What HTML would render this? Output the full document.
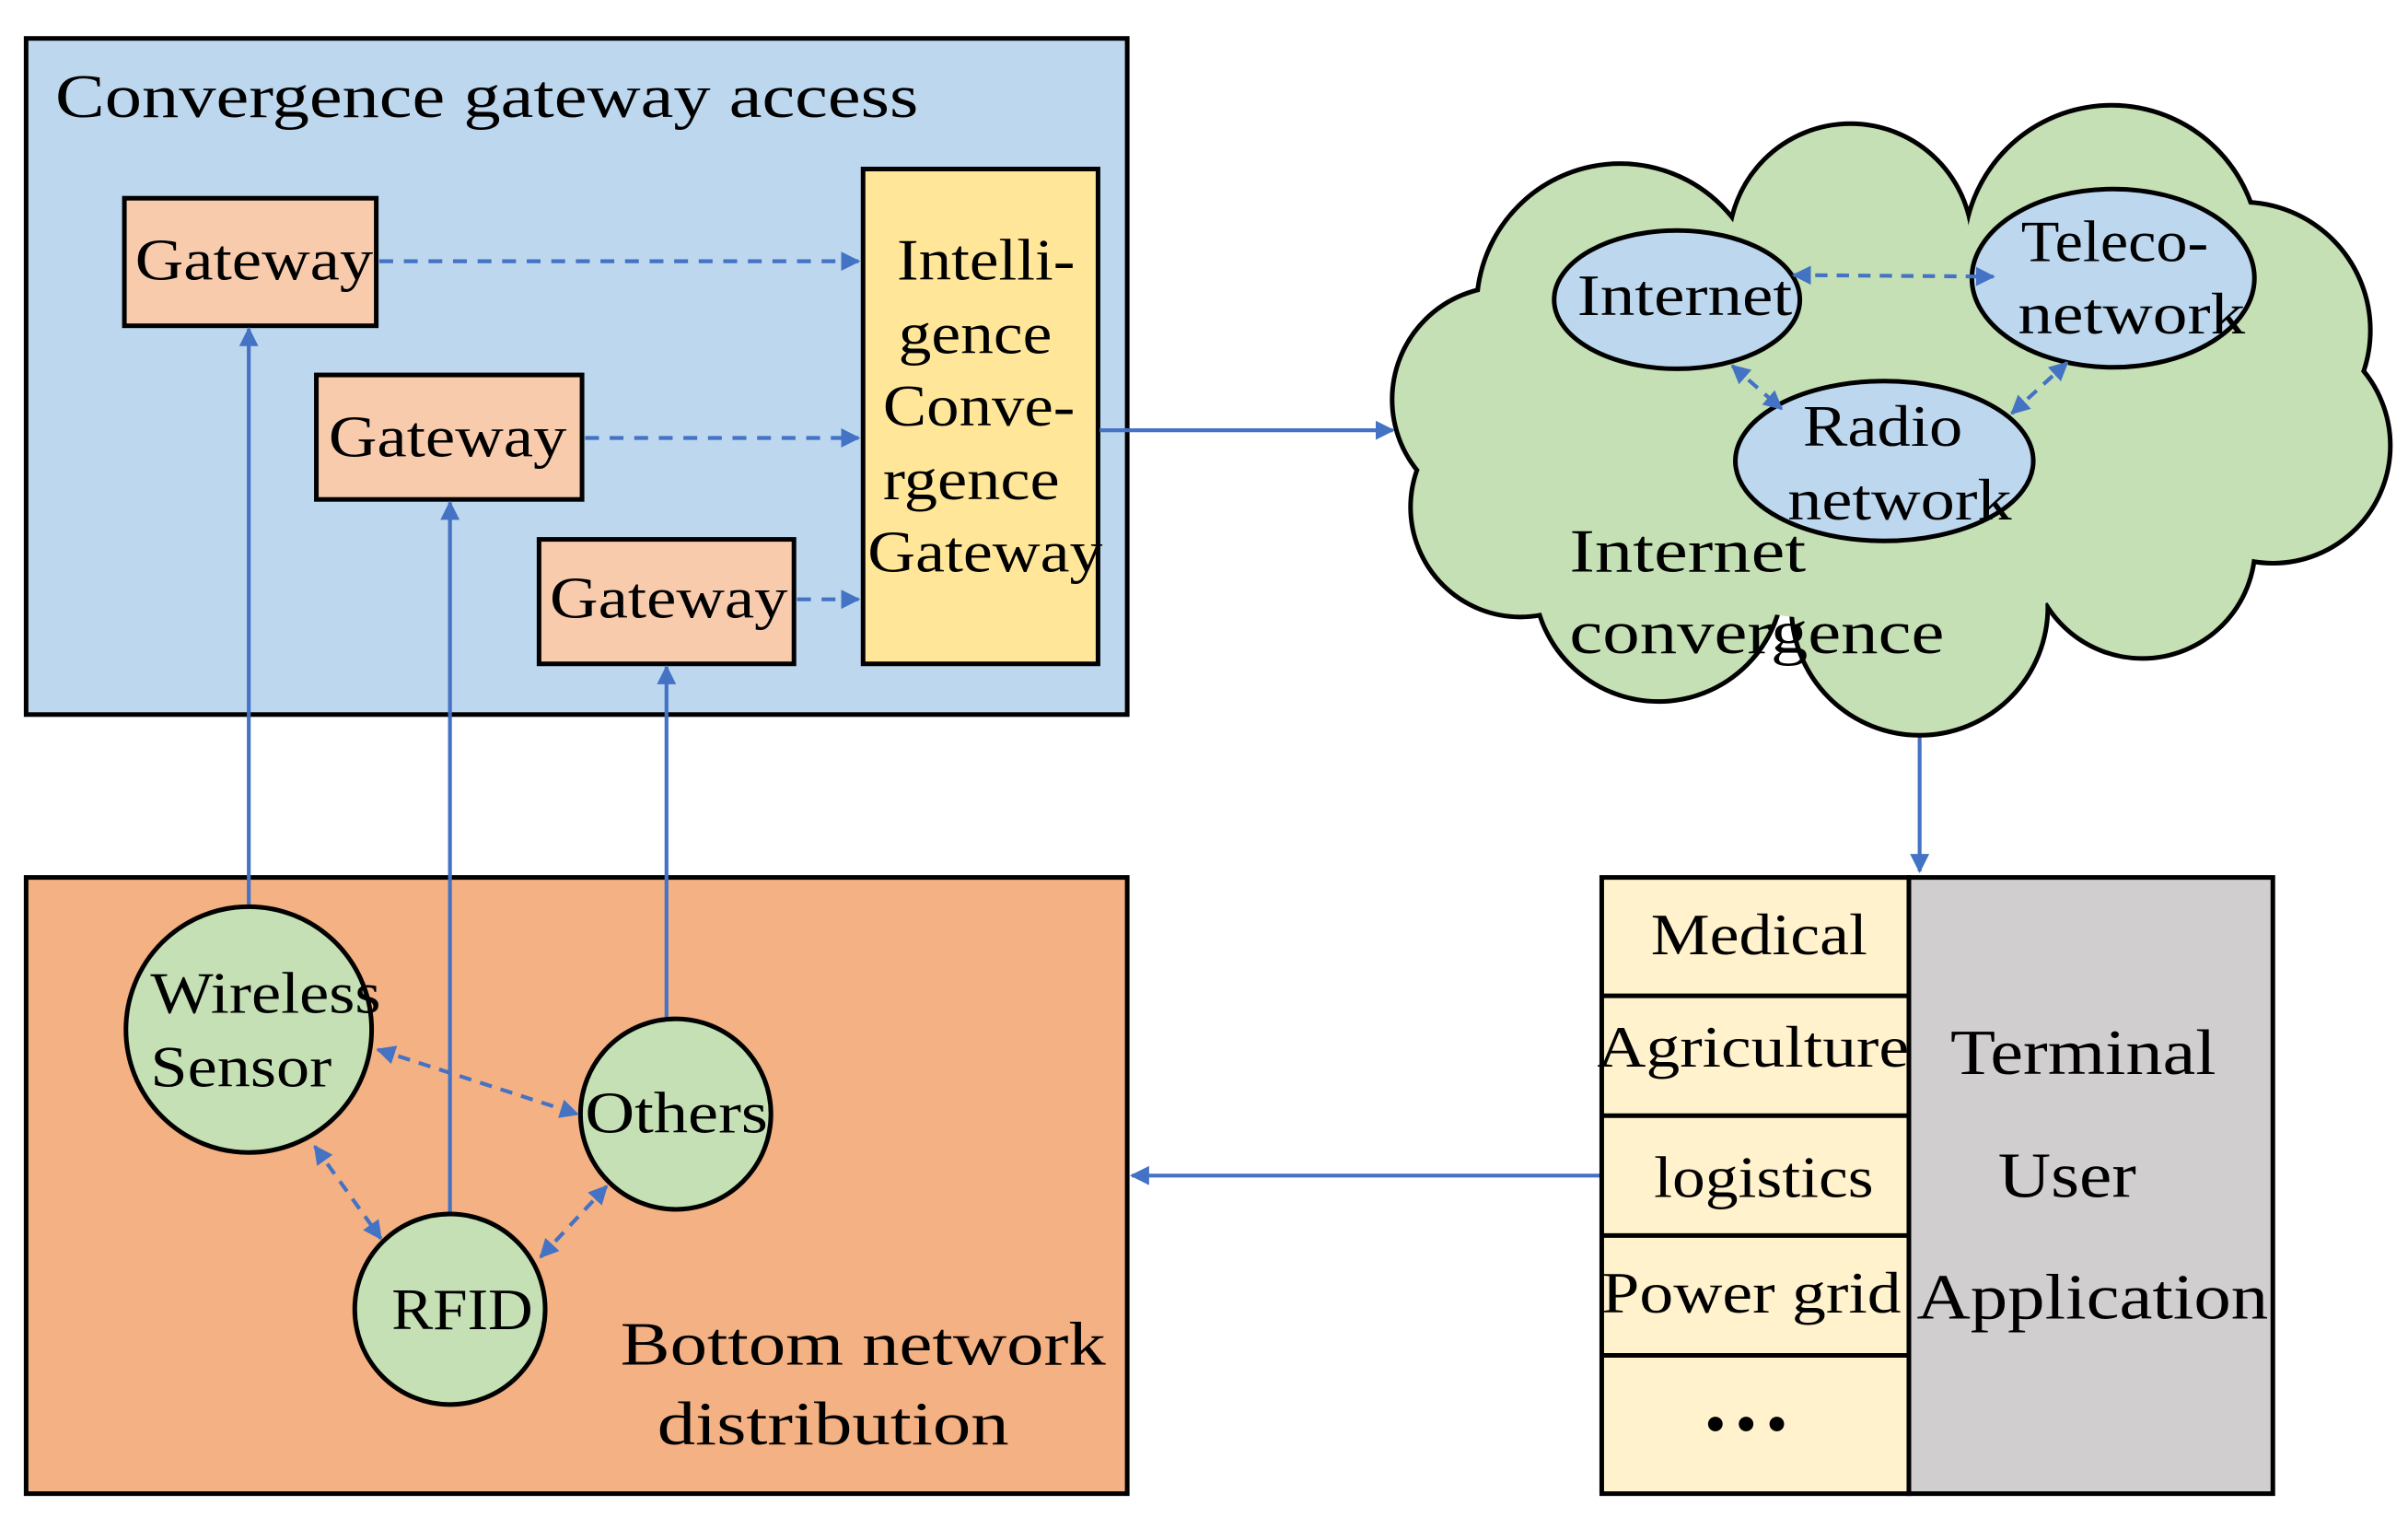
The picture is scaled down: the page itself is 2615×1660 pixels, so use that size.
<!DOCTYPE html>
<html><head><meta charset="utf-8"><style>html,body{margin:0;padding:0;background:#fff}svg{display:block}</style></head>
<body>
<svg width="2615" height="1660" viewBox="0 0 1568 995" preserveAspectRatio="none" xmlns="http://www.w3.org/2000/svg" font-family="'Liberation Serif', serif" fill="#000">
<defs>
<marker id="a" viewBox="0 0 10 10" refX="9" refY="5" markerWidth="5" markerHeight="5" orient="auto-start-reverse"><path d="M0,0 L10,5 L0,10 z" fill="#4472c4"/></marker>
</defs>
<rect x="0" y="0" width="1568" height="995" fill="#fff"/>
<rect x="17" y="25" width="717" height="440" fill="#bdd7ee" stroke="#000" stroke-width="3"/>
<text x="36" y="76" font-size="40" textLength="562" lengthAdjust="spacingAndGlyphs">Convergence gateway access</text>
<rect x="81" y="129" width="164" height="83" fill="#f8cbad" stroke="#000" stroke-width="3"/>
<text x="88" y="182" font-size="38" textLength="155" lengthAdjust="spacingAndGlyphs">Gateway</text>
<rect x="206" y="244" width="173" height="81" fill="#f8cbad" stroke="#000" stroke-width="3"/>
<text x="214" y="297" font-size="38" textLength="155" lengthAdjust="spacingAndGlyphs">Gateway</text>
<rect x="351" y="351" width="166" height="81" fill="#f8cbad" stroke="#000" stroke-width="3"/>
<text x="358" y="402" font-size="38" textLength="155" lengthAdjust="spacingAndGlyphs">Gateway</text>
<rect x="562" y="110" width="153" height="322" fill="#ffe699" stroke="#000" stroke-width="3"/>
<g font-size="38" lengthAdjust="spacingAndGlyphs">
<text x="584" y="182" textLength="116" lengthAdjust="spacingAndGlyphs">Intelli-</text>
<text x="585" y="230" textLength="100" lengthAdjust="spacingAndGlyphs">gence</text>
<text x="575" y="277" textLength="125" lengthAdjust="spacingAndGlyphs">Conve-</text>
<text x="575" y="325" textLength="115" lengthAdjust="spacingAndGlyphs">rgence</text>
<text x="565" y="372" textLength="153" lengthAdjust="spacingAndGlyphs">Gateway</text>
</g>
<g stroke="#4472c4" stroke-width="2.5" fill="none">
<line x1="247" y1="170" x2="559" y2="170" stroke-dasharray="9,7" marker-end="url(#a)"/>
<line x1="381" y1="285" x2="559" y2="285" stroke-dasharray="9,7" marker-end="url(#a)"/>
<line x1="519" y1="390" x2="559" y2="390" stroke-dasharray="9,7" marker-end="url(#a)"/>
<line x1="716" y1="280" x2="907" y2="280" marker-end="url(#a)"/>
<line x1="1250" y1="478" x2="1250" y2="567" marker-end="url(#a)"/>
<line x1="1043" y1="765" x2="737" y2="765" marker-end="url(#a)"/>
</g>
<g stroke="#000" stroke-width="6" fill="#c5e0b4">
<circle cx="1055" cy="200" r="92"/><circle cx="1205" cy="160" r="78"/><circle cx="1375" cy="165" r="95"/>
<circle cx="1460" cy="215" r="82"/><circle cx="1480" cy="290" r="75"/><circle cx="1395" cy="355" r="72"/>
<circle cx="1250" cy="395" r="82"/><circle cx="1080" cy="375" r="80"/><circle cx="990" cy="330" r="70"/><circle cx="980" cy="260" r="72"/>
</g>
<g fill="#c5e0b4">
<circle cx="1055" cy="200" r="92"/><circle cx="1205" cy="160" r="78"/><circle cx="1375" cy="165" r="95"/>
<circle cx="1460" cy="215" r="82"/><circle cx="1480" cy="290" r="75"/><circle cx="1395" cy="355" r="72"/>
<circle cx="1250" cy="395" r="82"/><circle cx="1080" cy="375" r="80"/><circle cx="990" cy="330" r="70"/><circle cx="980" cy="260" r="72"/>
<ellipse cx="1225" cy="275" rx="250" ry="130"/>
</g>
<g fill="#bdd7ee" stroke="#000" stroke-width="3">
<ellipse cx="1092" cy="195" rx="80" ry="45"/>
<ellipse cx="1376" cy="181" rx="92" ry="58"/>
<ellipse cx="1227" cy="300" rx="97" ry="52"/>
</g>
<g font-size="38">
<text x="1027" y="205" textLength="140" lengthAdjust="spacingAndGlyphs">Internet</text>
<text x="1316" y="170" textLength="122" lengthAdjust="spacingAndGlyphs">Teleco-</text>
<text x="1314" y="217" textLength="148" lengthAdjust="spacingAndGlyphs">network</text>
<text x="1174" y="290" textLength="104" lengthAdjust="spacingAndGlyphs">Radio</text>
<text x="1164" y="338" textLength="146" lengthAdjust="spacingAndGlyphs">network</text>
</g>
<text x="1022" y="372" font-size="40" textLength="154" lengthAdjust="spacingAndGlyphs">Internet</text>
<text x="1022" y="425" font-size="40" textLength="244" lengthAdjust="spacingAndGlyphs">convergence</text>
<g stroke="#4472c4" stroke-width="2.5" fill="none" stroke-dasharray="8,6">
<line x1="1168" y1="179" x2="1298" y2="180" marker-end="url(#a)" marker-start="url(#a)"/>
<line x1="1128" y1="238" x2="1160" y2="266" marker-end="url(#a)" marker-start="url(#a)"/>
<line x1="1310" y1="269" x2="1346" y2="236" marker-end="url(#a)" marker-start="url(#a)"/>
</g>
<rect x="1043" y="571" width="200" height="401" fill="#fff2cc" stroke="#000" stroke-width="3"/>
<rect x="1243" y="571" width="237" height="401" fill="#d0cece" stroke="#000" stroke-width="3"/>
<g stroke="#000" stroke-width="3"><line x1="1043" y1="648" x2="1243" y2="648"/><line x1="1043" y1="726" x2="1243" y2="726"/><line x1="1043" y1="804" x2="1243" y2="804"/><line x1="1043" y1="882" x2="1243" y2="882"/></g>
<g font-size="38">
<text x="1075" y="621" textLength="141" lengthAdjust="spacingAndGlyphs">Medical</text>
<text x="1040" y="694" textLength="203" lengthAdjust="spacingAndGlyphs">Agriculture</text>
<text x="1077" y="779" textLength="143" lengthAdjust="spacingAndGlyphs">logistics</text>
<text x="1043" y="854" textLength="195" lengthAdjust="spacingAndGlyphs">Power grid</text>
<text x="1140" y="940" font-size="40" letter-spacing="6" text-anchor="middle">•••</text>
<text x="1270" y="699" font-size="42" textLength="173" lengthAdjust="spacingAndGlyphs">Terminal</text>
<text x="1301" y="779" font-size="42" textLength="90" lengthAdjust="spacingAndGlyphs">User</text>
<text x="1248" y="858" font-size="42" textLength="229" lengthAdjust="spacingAndGlyphs">Application</text>
</g>
<rect x="17" y="571" width="717" height="401" fill="#f4b183" stroke="#000" stroke-width="3"/>
<g stroke="#4472c4" stroke-width="2.5" fill="none">
<line x1="162" y1="592" x2="162" y2="214" marker-end="url(#a)"/>
<line x1="293" y1="790" x2="293" y2="327" marker-end="url(#a)"/>
<line x1="434" y1="662" x2="434" y2="434" marker-end="url(#a)"/>
</g>
<g fill="#c5e0b4" stroke="#000" stroke-width="3">
<circle cx="162" cy="670" r="80"/><circle cx="440" cy="725" r="62"/><circle cx="293" cy="852" r="62"/>
</g>
<g font-size="38">
<text x="98" y="659" textLength="150" lengthAdjust="spacingAndGlyphs">Wireless</text>
<text x="98" y="707" textLength="118" lengthAdjust="spacingAndGlyphs">Sensor</text>
<text x="381" y="737" textLength="119" lengthAdjust="spacingAndGlyphs">Others</text>
<text x="255" y="865" textLength="92" lengthAdjust="spacingAndGlyphs">RFID</text>
</g>
<g stroke="#4472c4" stroke-width="2.5" fill="none" stroke-dasharray="8,6">
<line x1="246" y1="683" x2="376" y2="725" marker-end="url(#a)" marker-start="url(#a)"/>
<line x1="205" y1="746" x2="248" y2="806" marker-end="url(#a)" marker-start="url(#a)"/>
<line x1="352" y1="818" x2="395" y2="772" marker-end="url(#a)" marker-start="url(#a)"/>
</g>
<text x="404" y="888" font-size="40" textLength="316" lengthAdjust="spacingAndGlyphs">Bottom network</text>
<text x="428" y="940" font-size="40" textLength="229" lengthAdjust="spacingAndGlyphs">distribution</text>
</svg>
</body></html>
